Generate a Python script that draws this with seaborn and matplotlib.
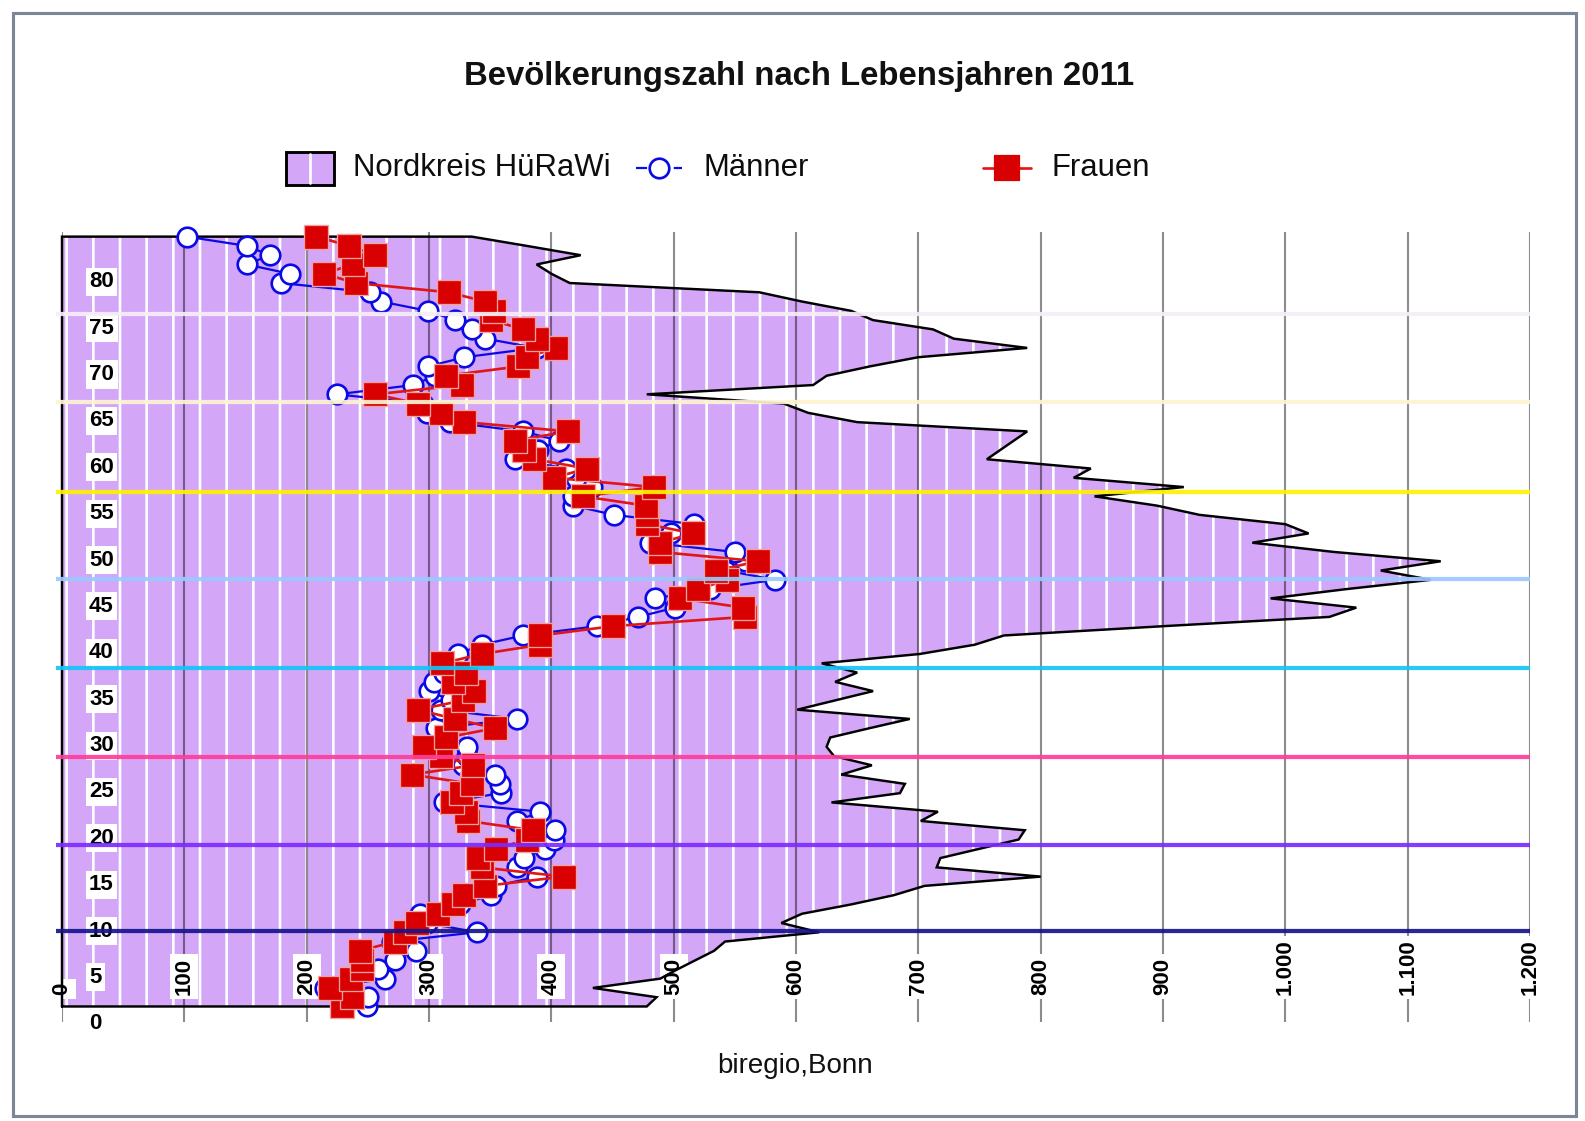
import numpy as np
import pandas as pd
import matplotlib
matplotlib.use("Agg")
import matplotlib.pyplot as plt
import seaborn as sns
from matplotlib.lines import Line2D
from matplotlib.patches import Rectangle

# ---- data: population per year of age (index 0 = youngest row) ----
ages = np.arange(84)

total = [
    478, 486, 434, 489, 503, 518, 533, 542, 619, 588,
    605, 645, 680, 705, 800, 715, 718, 750, 782, 787,
    702, 716, 629, 685, 689, 637, 662, 631, 625, 628,
    660, 693, 601, 632, 663, 632, 650, 621, 701, 746,
    770, 900, 1036, 1058, 988, 1050, 1119, 1078, 1127, 1040,
    973, 1019, 1000, 930, 895, 844, 917, 827, 841, 756,
    767, 778, 789, 650, 610, 590, 478, 614, 625, 660,
    700, 789, 729, 712, 663, 645, 605, 570, 415, 400,
    388, 424, 380, 335,
]

men = [
    249, 250, 215, 264, 258, 272, 289, 270, 339, 298,
    293, 325, 351, 355, 388, 372, 378, 395, 402, 403,
    372, 391, 312, 359, 358, 354, 328, 331, 331, 314,
    306, 372, 310, 318, 300, 304, 312, 316, 324, 343,
    377, 437, 471, 501, 485, 530, 583, 543, 558, 550,
    481, 498, 517, 451, 418, 418, 433, 420, 412, 370,
    389, 406, 377, 317, 298, 295, 225, 287, 305, 299,
    329, 388, 346, 335, 321, 299, 261, 252, 179, 186,
    151, 170, 151, 102,
]

women = [
    229, 237, 219, 236, 245, 245, 244, 272, 280, 290,
    307, 320, 329, 346, 410, 343, 340, 355, 380, 385,
    332, 330, 319, 326, 335, 286, 336, 310, 296, 314,
    354, 321, 291, 328, 337, 320, 330, 311, 343, 391,
    391, 450, 558, 557, 505, 520, 544, 535, 569, 489,
    489, 516, 478, 478, 477, 426, 484, 402, 429, 386,
    378, 370, 414, 329, 310, 291, 256, 327, 314, 373,
    380, 404, 388, 377, 351, 353, 346, 316, 240, 214,
    238, 256, 235, 208,
]

x_ticks = list(range(0, 1201, 100))
x_tick_labels = ["0", "100", "200", "300", "400", "500", "600", "700",
                 "800", "900", "1.000", "1.100", "1.200"]
y_tick_values = list(range(0, 81, 5))
y_label_shift = -1.6

# horizontal marker lines (row positions) and their colours
band_rows = [8.16, 17.43, 26.95, 36.48, 46.10, 55.51, 65.22, 74.64]
band_colors = ["#14148c", "#7a2cff", "#ff3d9a", "#16c4f6",
               "#9cc8ff", "#fff200", "#fdf4d2", "#f6eef8"]

AREA = "#d4a6f7"
BLUE = "#0a0ae6"
RED = "#d80000"

df = pd.DataFrame({"age": ages, "total": total, "men": men, "women": women})

# ---- figure ----
sns.set_theme(style="white")
plt.rcParams["font.family"] = ["Liberation Sans", "DejaVu Sans"]
plt.rcParams["hatch.linewidth"] = 1.2

W, H = 1585, 1121
DPI = 160
fig = plt.figure(figsize=(W / DPI, H / DPI), dpi=DPI)
fig.patch.set_facecolor("white")


def fx(px):
    return px / W


def fy(py):
    return 1 - py / H


ax = fig.add_axes([fx(62), fy(1021.5), 1468 / W, 789.5 / H])
ax.set_facecolor("white")
ax.set_xlim(0, 1200)
ax.set_ylim(-1.62, 83.5)
for s in ax.spines.values():
    s.set_visible(False)

# total population area with vertical white hatching
ax.fill_betweenx(df["age"], 0, df["total"], facecolor=AREA, edgecolor="white",
                 hatch="|", linewidth=0, zorder=1)
ox = np.r_[0, df["total"].to_numpy(), 0, 0]
oy = np.r_[df["age"].iloc[0], df["age"].to_numpy(), df["age"].iloc[-1], df["age"].iloc[0]]
ax.plot(ox, oy, color="black", lw=1.1, zorder=3, clip_on=False, solid_joinstyle="miter")

# vertical grid
ax.set_axisbelow(False)
ax.xaxis.grid(True, color="black", alpha=0.45, lw=0.95)
ax.yaxis.grid(False)

# men / women series
sns.lineplot(data=df, x="men", y="age", orient="y", sort=False, errorbar=None,
             color=BLUE, linewidth=1.0, marker="o", markersize=8.8,
             markerfacecolor="white", markeredgecolor=BLUE, markeredgewidth=1.2,
             clip_on=False, zorder=4, legend=False, ax=ax)
sns.lineplot(data=df, x="women", y="age", orient="y", sort=False, errorbar=None,
             color="#e01515", linewidth=1.2, marker="s", markersize=10.4,
             markerfacecolor=RED, markeredgecolor="#f2a0a0", markeredgewidth=0.6,
             clip_on=False, zorder=5, legend=False, ax=ax)

# coloured horizontal lines
for row, col in zip(band_rows, band_colors):
    ax.plot([-5, x_ticks[-1]], [row, row], color=col, lw=1.9, alpha=0.92,
            zorder=10, clip_on=False, solid_capstyle="butt")

# ticks and labels inside the plot
ax.set_xticks(x_ticks, labels=x_tick_labels)
ax.tick_params(axis="x", length=0, pad=-11.9, labelsize=10, rotation=90,
               labelcolor="black")
for lab in ax.get_xticklabels():
    lab.set_va("bottom")
    lab.set_fontweight("bold")
    lab.set_bbox(dict(facecolor="white", edgecolor="none", pad=1.6))

ax.set_yticks([v + y_label_shift for v in y_tick_values],
              labels=[str(v) for v in y_tick_values])
ax.tick_params(axis="y", length=0, pad=-12.2, labelsize=10, labelcolor="black")
for lab in ax.get_yticklabels():
    lab.set_ha("left")
    lab.set_fontweight("bold")
    lab.set_bbox(dict(facecolor="white", edgecolor="none", pad=1.6))
ax.set_xlabel("")
ax.set_ylabel("")

# title
fig.text(fx(799), fy(76), "Bevölkerungszahl nach Lebensjahren 2011",
         ha="center", va="center", fontsize=14.8, fontweight="bold", color="#111111")

# legend
ly = fy(168)
fig.add_artist(Rectangle((fx(286), fy(185)), fx(48), 33 / H, transform=fig.transFigure,
                         facecolor=AREA, edgecolor="black", lw=1.3))
fig.add_artist(Line2D([fx(310), fx(310)], [fy(183), fy(154)], transform=fig.transFigure,
                      color="white", lw=1.2))
fig.text(fx(353), ly, "Nordkreis HüRaWi", ha="left", va="center", fontsize=14, color="#0d0d0d")
fig.add_artist(Line2D([fx(636), fx(682)], [ly, ly], transform=fig.transFigure,
                      color=BLUE, lw=1.0, dashes=(5, 12)))
fig.add_artist(Line2D([fx(659)], [ly], transform=fig.transFigure, marker="o",
                      markersize=8.8, markerfacecolor="white", markeredgecolor=BLUE,
                      markeredgewidth=1.2, linestyle="none"))
fig.text(fx(703), ly, "Männer", ha="left", va="center", fontsize=14, color="#0d0d0d")
fig.add_artist(Line2D([fx(983), fx(1031)], [ly, ly], transform=fig.transFigure,
                      color="#e01515", lw=1.2))
fig.add_artist(Line2D([fx(1007)], [ly], transform=fig.transFigure, marker="s",
                      markersize=10.4, markerfacecolor=RED, markeredgecolor=RED,
                      linestyle="none"))
fig.text(fx(1051), ly, "Frauen", ha="left", va="center", fontsize=14, color="#0d0d0d")

# source line
fig.text(fx(795), fy(1066), "biregio,Bonn", ha="center", va="center", fontsize=12.5,
         color="#111111")

# outer frame
fig.add_artist(Rectangle((fx(13), fy(1116)), fx(1563), 1103 / H, transform=fig.transFigure,
                         facecolor="none", edgecolor="#7b8796", lw=1.4))

fig.savefig("out.png", dpi=DPI, facecolor="white")
